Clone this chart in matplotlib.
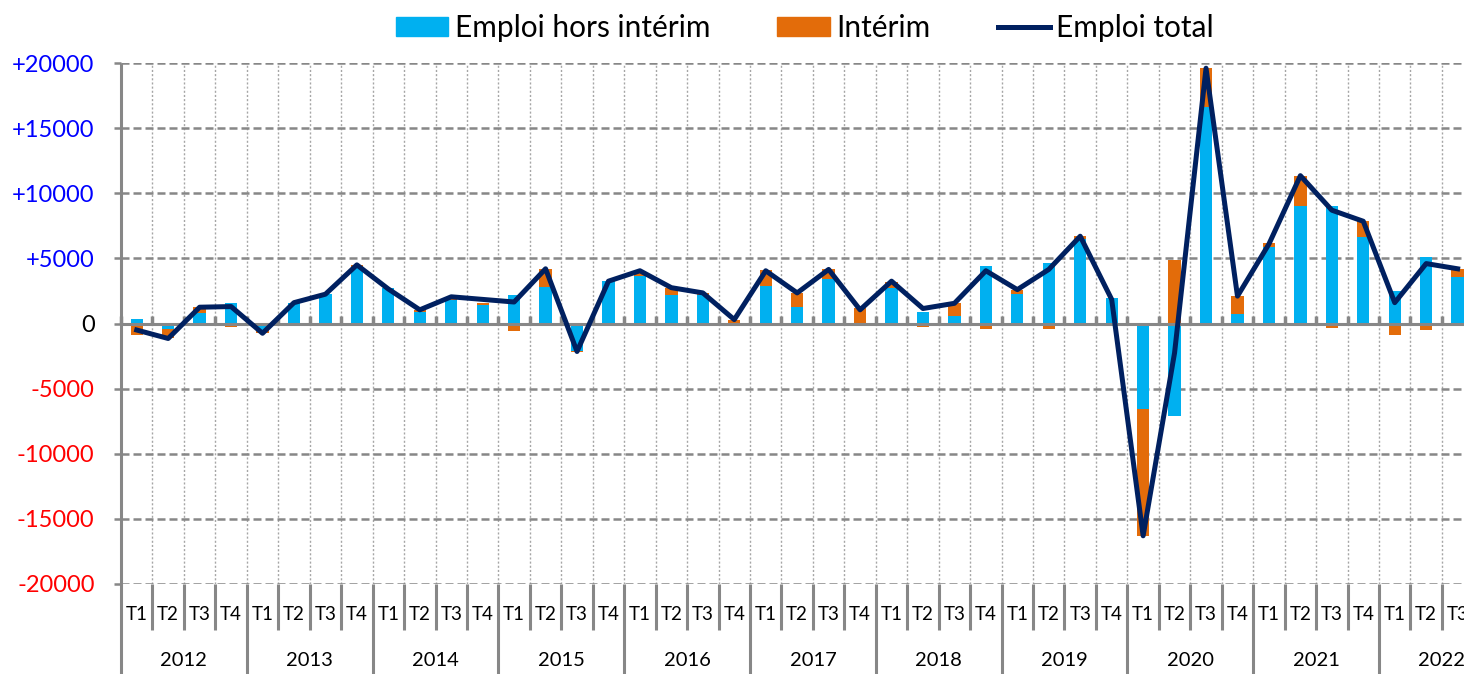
import matplotlib
matplotlib.use("Agg")
import matplotlib.pyplot as plt
import matplotlib.transforms as mtransforms
from matplotlib.lines import Line2D
from matplotlib.patches import Patch
import numpy as np

plt.rcParams['font.family'] = ['Lato', 'DejaVu Sans']

# --- data (quarterly change in employment) ---
years = [str(y) for y in range(2012, 2023)]
quarters = ["T1", "T2", "T3", "T4"]

hors_interim = [
    330, -400, 800, 1550,      # 2012
    -500, 1550, 2250, 4300,    # 2013
    2750, 900, 1800, 1400,     # 2014
    2200, 2800, -2100, 3250,   # 2015
    3650, 2200, 2200, 50,      # 2016
    2850, 1300, 3400, -150,    # 2017
    2750, 900, 550, 4450,      # 2018
    2250, 4650, 6450, 1950,    # 2019
    -6600, -7100, 16650, 750,  # 2020
    5900, 9050, 9050, 6650,    # 2021
    2500, 5100, 3600,          # 2022
]
interim = [
    -850, -750, 450, -250,
    -250, 0, 0, 200,
    0, 150, 250, 200,
    -550, 1350, -100, 50,
    350, 550, 150, 250,
    1250, 1050, 750, 1200,
    450, -250, 1000, -400,
    350, -450, 250, -100,
    -9700, 4850, 2950, 1350,
    300, 2300, -350, 1200,
    -900, -500, 600,
]
emploi_total = [
    -500, -1150, 1250, 1300,
    -750, 1600, 2250, 4500,
    2650, 1050, 2050, 1850,
    1650, 4200, -2150, 3250,
    4050, 2750, 2350, 300,
    4050, 2350, 4150, 1050,
    3250, 1150, 1550, 4050,
    2600, 4150, 6700, 1850,
    -16300, -2250, 19600, 2100,
    6100, 11350, 8700, 7850,
    1600, 4600, 4200,
]
labels = ["Emploi hors intérim", "Intérim", "Emploi total"]

BLUE = "#00B0F0"
ORANGE = "#E36C0A"
NAVY = "#002060"
GREY = "#878787"

n = len(emploi_total)
x = np.arange(n)
hors = np.array(hors_interim, float)
inte = np.array(interim, float)
# excel style stacking: positives stack up, negatives stack down
inte_bottom = np.where(np.sign(inte) == np.sign(hors), hors, 0)

W, H = 1464, 674
fig = plt.figure(figsize=(W / 100, H / 100), dpi=100)
ax = fig.add_axes([121 / W, 1 - 584 / H, 43 * 31.45 / W, 521 / H])

ax.bar(x, hors, width=0.39, color=BLUE, zorder=2)
ax.bar(x, inte, bottom=inte_bottom, width=0.39, color=ORANGE, zorder=2)
ax.plot(x, emploi_total, color=NAVY, lw=3.6, zorder=4, solid_joinstyle='round')

ax.set_xlim(-0.5, n - 0.5)
ax.set_ylim(-20000, 20000)
ax.set_axisbelow(True)

# zero line with small upward ticks between quarters
bounds = np.arange(-0.5, n, 1)
ax.set_xticks(bounds)
ax.spines['bottom'].set_position(('data', 0))
ax.spines['bottom'].set_color(GREY)
ax.spines['bottom'].set_linewidth(2.2)
ax.spines['bottom'].set_zorder(3)
for s in ['top', 'right', 'left']:
    ax.spines[s].set_visible(False)
ax.tick_params(axis='x', direction='in', length=6, width=2.5, color=GREY,
               labelbottom=False)
ax.xaxis.grid(True, color='#A6A6A6', linestyle=(0, (1.5, 1.5)), lw=1)
ax.yaxis.grid(True, color=GREY, linestyle=(0, (3.2, 1.6)), lw=1.8)

yt = np.arange(-20000, 20001, 5000)
ax.set_yticks(yt)
ax.set_yticklabels([f"{v:+d}" if v > 0 else str(v) for v in yt])
for lab, v in zip(ax.get_yticklabels(), yt):
    lab.set_color('#0000FF' if v > 0 else ('#FF0000' if v < 0 else 'black'))
ax.tick_params(axis='y', direction='out', length=5, width=1.8, color=GREY,
               labelsize=17, pad=14)

# category axis below the plot
trans = mtransforms.blended_transform_factory(ax.transData, ax.transAxes)
for k, b in enumerate(np.arange(-0.5, n + 0.5, 1)):
    top = 1.0 if k == 0 else 0.0
    low = -0.2 if k % 4 == 0 else -46 / 521
    ax.plot([b, b], [top, low], transform=trans, color=GREY, lw=2.2,
            clip_on=False, solid_capstyle='butt', zorder=3)
for i in range(n):
    ax.text(i, -31 / 521, quarters[i % 4], transform=trans, ha='center',
            va='center', fontsize=13.5)
for j, yr in enumerate(years):
    ax.text(4 * j + 1.5, -77 / 521, yr, transform=trans, ha='center',
            va='center', fontsize=14.5)

handles = [Patch(color=BLUE), Patch(color=ORANGE),
           Line2D([], [], color=NAVY, lw=3.6)]
fig.legend(handles, labels, loc='center', bbox_to_anchor=(805 / W, 1 - 28 / H),
           ncol=3, frameon=False, fontsize=21.5, handlelength=1.75,
           handleheight=0.57, handletextpad=0.22, columnspacing=2.25,
           borderpad=0)

fig.savefig('out.png', dpi=100)
